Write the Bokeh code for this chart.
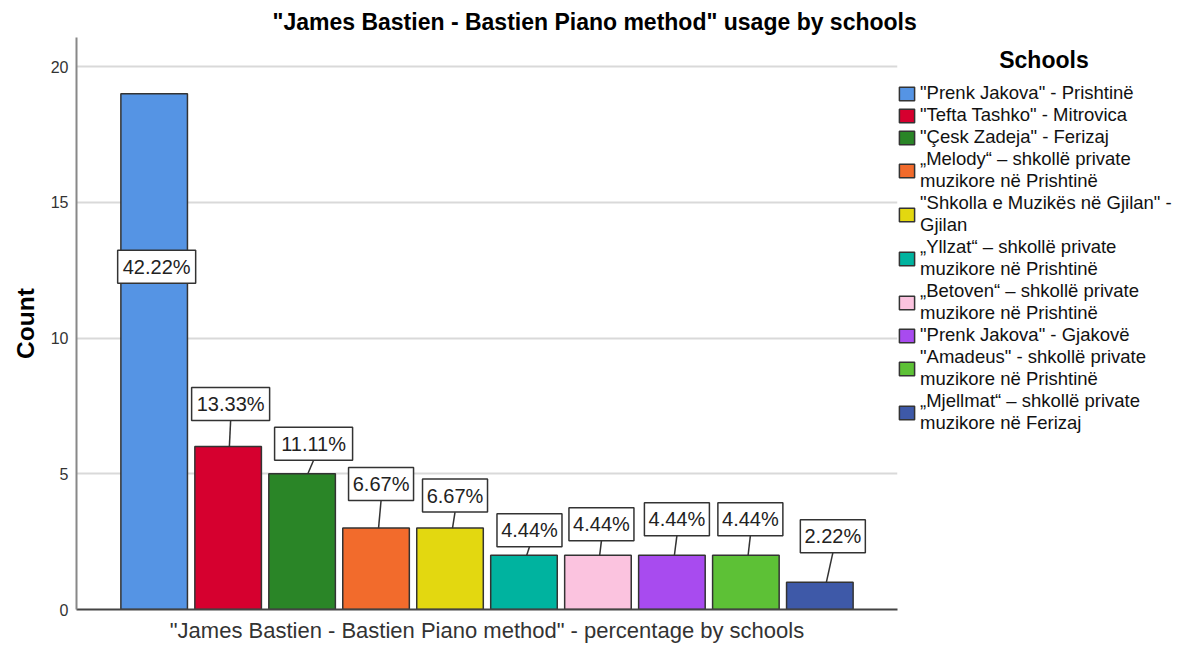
from bokeh.plotting import figure
from bokeh.models import (ColumnDataSource, Legend, LegendItem, FixedTicker, Range1d)
from bokeh.embed import file_html
from bokeh.resources import INLINE
from bokeh.core.properties import value

# ---------------- data ----------------
schools = [
    '"Prenk Jakova" - Prishtinë',
    '"Tefta Tashko" - Mitrovica',
    '"Çesk Zadeja" - Ferizaj',
    '„Melody“ – shkollë private\nmuzikore në Prishtinë',
    '"Shkolla e Muzikës në Gjilan" -\nGjilan',
    '„Yllzat“ – shkollë private\nmuzikore në Prishtinë',
    '„Betoven“ – shkollë private\nmuzikore në Prishtinë',
    '"Prenk Jakova" - Gjakovë',
    '"Amadeus" - shkollë private\nmuzikore në Prishtinë',
    '„Mjellmat“ – shkollë private\nmuzikore në Ferizaj',
]
counts = [19, 6, 5, 3, 3, 2, 2, 2, 2, 1]
colors = ["#5594E4", "#D6002F", "#2A8527", "#F26B2C", "#E3D810",
          "#00B39F", "#FBC3DF", "#A84BEF", "#5DC136", "#3E59A8"]
y_ticks = [0, 5, 10, 15, 20]
legend_title = "Schools"

# placement of the percentage boxes (screen pixels, relative to bar top centre)
label_dx = [2.5, 2.5, 11.5, 5, 5, 5.5, 3.5, 5, 4.5, 13]
label_dy = [-173, 42.5, 30, 44, 32.5, 25, 31, 36, 36, 46]

# ---------------- layout ----------------
FW, FH = 821, 572
BL, BT, BB = 76, 37, 34
X0, X1 = -0.05, 11.05
Y0, Y1 = 0, 21.07
px_x = FW / (X1 - X0)
px_y = FH / (Y1 - Y0)
FONT = "Liberation Sans"

total = sum(counts)
pct = [f"{c / total * 100:.2f}%" for c in counts]
xs = list(range(1, len(counts) + 1))

p = figure(frame_width=FW, frame_height=FH, output_backend="svg", toolbar_location=None,
           x_range=Range1d(X0, X1), y_range=Range1d(Y0, Y1),
           min_border_left=BL, min_border_right=0, min_border_top=BT,
           min_border_bottom=BB)
p.outline_line_color = None
p.background_fill_color = "white"

p.title.text = '"James Bastien - Bastien Piano method" usage by schools'
p.title.text_font = FONT
p.title.text_font_size = "23px"
p.title.text_font_style = "bold"
p.title.text_color = "#000000"
p.title.align = "left"
p.title.offset = 196
p.title.standoff = 5

# grid
p.xgrid.visible = False
p.ygrid.ticker = FixedTicker(ticks=y_ticks)
p.ygrid.grid_line_color = "#d9d9d9"
p.ygrid.grid_line_width = 2

# y axis
p.yaxis.ticker = FixedTicker(ticks=y_ticks)
p.yaxis.axis_label = "Count"
p.yaxis.axis_label_text_font = FONT
p.yaxis.axis_label_text_font_size = "24.5px"
p.yaxis.axis_label_text_font_style = "bold"
p.yaxis.axis_label_text_color = "#000000"
p.yaxis.axis_label_standoff = 9
p.yaxis.major_label_text_font = FONT
p.yaxis.major_label_text_font_size = "16px"
p.yaxis.major_label_text_color = "#333333"
p.yaxis.major_label_standoff = 8
p.yaxis.major_tick_out = 0
p.yaxis.major_tick_in = 0
p.yaxis.minor_tick_out = 0
p.yaxis.minor_tick_in = 0
p.yaxis.axis_line_color = "#888888"
p.yaxis.axis_line_width = 2

# x axis
p.xaxis.ticker = FixedTicker(ticks=[])
p.xaxis.axis_label = '"James Bastien - Bastien Piano method" - percentage by schools'
p.xaxis.axis_label_text_font = FONT
p.xaxis.axis_label_text_font_size = "22px"
p.xaxis.axis_label_text_font_style = "normal"
p.xaxis.axis_label_text_color = "#333333"
p.xaxis.axis_label_standoff = 8
p.xaxis.major_label_text_font_size = "0px"
p.xaxis.major_label_standoff = 0
p.xaxis.major_tick_out = 0
p.xaxis.major_tick_in = 0
p.xaxis.minor_tick_out = 0
p.xaxis.minor_tick_in = 0
p.xaxis.axis_line_color = "#444444"
p.xaxis.axis_line_width = 2

src = ColumnDataSource(dict(x=xs, count=counts, color=colors, school=schools))
bars = p.vbar(x="x", top="count", width=0.9, source=src, fill_color="color",
              line_color="#333333", line_width=1.5)

# leader lines
sx0, sy0, sx1, sy1 = [], [], [], []
for i, c in enumerate(counts):
    if label_dy[i] > 0:
        sx0.append(xs[i] + label_dx[i] / px_x)
        sy0.append(c + (label_dy[i] - 16.5) / px_y)
        sx1.append(xs[i] + label_dx[i] / 2 / px_x)
        sy1.append(c)
p.segment(x0=sx0, y0=sy0, x1=sx1, y1=sy1, line_color="#333333", line_width=1.5)

# percentage boxes
lx = [xs[i] + label_dx[i] / px_x for i in range(len(counts))]
ly = [counts[i] + label_dy[i] / px_y for i in range(len(counts))]
lw = [13 * len(t) for t in pct]
lab = ColumnDataSource(dict(x=lx, y=ly, w=lw, t=pct))
p.rect(x="x", y="y", width="w", height=33, width_units="screen", height_units="screen",
       source=lab, fill_color="white", line_color="#333333", line_width=1.5)
p.text(x="x", y="y", text="t", source=lab, text_align="center", text_baseline="middle",
       text_font=value(FONT), text_font_size="20px", text_color="#222222")

# legend (heading indented with no-break spaces so it sits centred over the entries)
items = [LegendItem(label=schools[i], renderers=[bars], index=i) for i in range(len(schools))]
legend = Legend(items=items, location=(0, 175), title="\u00a0" * 16 + legend_title)
legend.title_text_font = FONT
legend.title_text_font_size = "23px"
legend.title_text_font_style = "bold"
legend.title_text_color = "#000000"
legend.title_standoff = 8
legend.label_text_font = FONT
legend.label_text_font_size = "18.5px"
legend.label_text_color = "#111111"
legend.glyph_width = 19
legend.glyph_height = 17
legend.label_height = 17
legend.label_standoff = 4
legend.spacing = 0
legend.padding = 0
legend.margin = 0
legend.border_line_color = None
legend.background_fill_alpha = 0
p.add_layout(legend, "right")

open("out.html", "w").write(file_html(p, INLINE))
